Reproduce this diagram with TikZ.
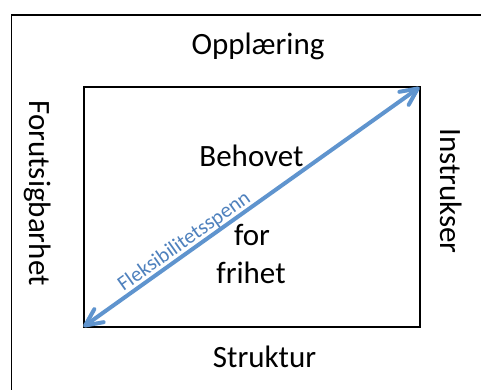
\documentclass[tikz,border=0pt]{standalone}
\usepackage{fontspec}
\setmainfont{Carlito}
\usetikzlibrary{arrows.meta}
\definecolor{arrowblue}{RGB}{95,148,206}
\definecolor{labelblue}{RGB}{79,129,189}
\begin{document}
\begin{tikzpicture}[x=1pt,y=-1pt,
  big/.style={font=\fontsize{31}{37}\selectfont, inner sep=0pt},
  frameline/.style={line width=1.5pt},
  boxline/.style={draw, line width=2pt, outer sep=0pt, inner sep=0pt},
  barb/.style={Straight Barb[length=17pt,width=16pt,round]},
  flexarrow/.style={arrowblue, line width=4pt, {Straight Barb[length=17pt,width=16pt,round]}-{Straight Barb[length=17pt,width=16pt,round]}},
  flexlabel/.style={font=\fontsize{21}{25}\selectfont, text=labelblue, inner sep=0pt}]
\clip (0,0) rectangle (481,390);
\useasboundingbox (0,0) rectangle (481,390);
\draw[frameline] (11.5,400) -- (11.5,15) -- (490,15);
\node[boxline, minimum width=336pt, minimum height=239.4pt] (box) at (251.5,207) {};
\node[big, anchor=base] (top) at (258,55) {Opplæring};
\node[big, anchor=base] (bottom) at (264.5,367) {Struktur};
\node[big, anchor=base, rotate=-90] (left) at (29.5,193) {Forutsigbarhet};
\node[big, anchor=base, rotate=-90] (right) at (440,191) {Instrukser};
\node[big, anchor=base] (b1) at (251.5,167) {Behovet};
\node[big, anchor=base] (b2) at (252,245) {for};
\node[big, anchor=base] (b3) at (251,283) {frihet};
\draw[flexarrow] (box.south west) -- (box.north east);
\node[flexlabel, rotate=35.4, anchor=base] (flex) at (187.7,246.3) {Fleksibilitetsspenn};
\end{tikzpicture}
\end{document}
